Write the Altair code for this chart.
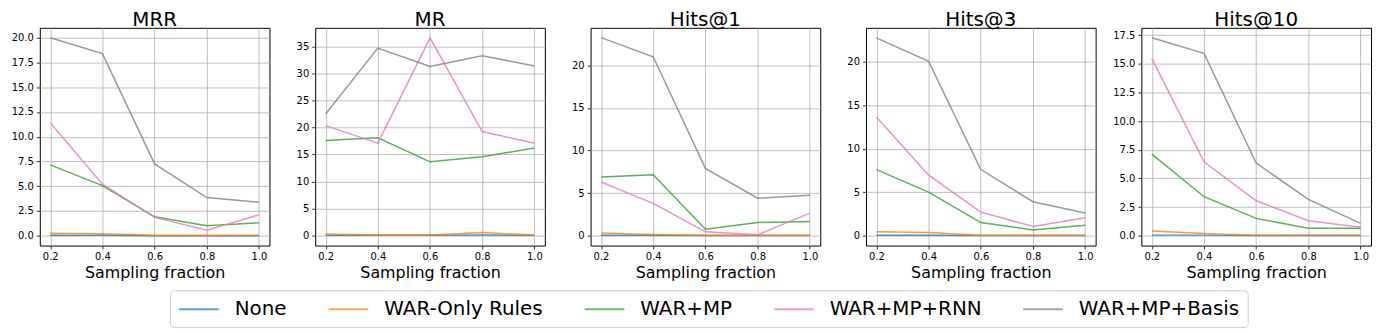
import altair as alt
import pandas as pd

fractions = [0.2, 0.4, 0.6, 0.8, 1.0]
methods = ["None", "WAR-Only Rules", "WAR+MP", "WAR+MP+RNN", "WAR+MP+Basis"]
colors = ["#1f77b4", "#ff7f0e", "#2ca02c", "#e377c2", "#7f7f7f"]

mrr_none = [0.05, 0.05, 0.0, 0.0, 0.0]
mrr_rules = [0.25, 0.2, 0.05, 0.05, 0.05]
mrr_mp = [7.15, 5.05, 1.9, 1.0, 1.3]
mrr_rnn = [11.4, 5.2, 1.85, 0.54, 2.1]
mrr_basis = [20.0, 18.4, 7.25, 3.85, 3.37]

mr_none = [0.05, 0.05, 0.05, 0.1, 0.05]
mr_rules = [0.3, 0.1, 0.1, 0.55, 0.1]
mr_mp = [17.6, 18.1, 13.65, 14.6, 16.2]
mr_rnn = [20.35, 17.1, 36.6, 19.25, 17.1]
mr_basis = [22.5, 34.7, 31.3, 33.3, 31.4]

h1_none = [0.05, 0.05, 0.02, 0.02, 0.02]
h1_rules = [0.3, 0.15, 0.05, 0.05, 0.05]
h1_mp = [6.9, 7.15, 0.75, 1.55, 1.65]
h1_rnn = [6.3, 3.8, 0.45, 0.1, 2.65]
h1_basis = [23.25, 21.0, 7.9, 4.4, 4.75]

h3_none = [0.05, 0.05, 0.02, 0.02, 0.02]
h3_rules = [0.45, 0.35, 0.05, 0.05, 0.05]
h3_mp = [7.6, 5.0, 1.5, 0.65, 1.2]
h3_rnn = [13.65, 6.95, 2.7, 1.05, 2.05]
h3_basis = [22.75, 20.05, 7.6, 3.9, 2.6]

h10_none = [0.05, 0.05, 0.02, 0.02, 0.02]
h10_rules = [0.4, 0.2, 0.05, 0.05, 0.05]
h10_mp = [7.11, 3.4, 1.51, 0.64, 0.64]
h10_rnn = [15.47, 6.44, 3.05, 1.3, 0.73]
h10_basis = [17.27, 15.9, 6.33, 3.16, 1.07]

panels = [
    ("MRR", [mrr_none, mrr_rules, mrr_mp, mrr_rnn, mrr_basis], [-1.0, 21.0],
     [0, 2.5, 5, 7.5, 10, 12.5, 15, 17.5, 20], ".1f"),
    ("MR", [mr_none, mr_rules, mr_mp, mr_rnn, mr_basis], [-1.85, 38.45],
     [0, 5, 10, 15, 20, 25, 30, 35], "d"),
    ("Hits@1", [h1_none, h1_rules, h1_mp, h1_rnn, h1_basis], [-1.16, 24.4],
     [0, 5, 10, 15, 20], "d"),
    ("Hits@3", [h3_none, h3_rules, h3_mp, h3_rnn, h3_basis], [-1.14, 23.9],
     [0, 5, 10, 15, 20], "d"),
    ("Hits@10", [h10_none, h10_rules, h10_mp, h10_rnn, h10_basis], [-0.86, 18.13],
     [0, 2.5, 5, 7.5, 10, 12.5, 15, 17.5], ".1f"),
]

FONT = "DejaVu Sans"


def make_panel(title, series, ydom, yticks, yfmt):
    rows = []
    for mi, (m, vals) in enumerate(zip(methods, series)):
        for f, v in zip(fractions, vals):
            rows.append({"fraction": f, "value": v, "method": m, "order": mi})
    df = pd.DataFrame(rows)
    return (
        alt.Chart(df, title=alt.TitleParams(title, fontSize=20, font=FONT, fontWeight="normal",
                                            offset=-2))
        .mark_line(strokeWidth=1.5, opacity=0.8)
        .encode(
            x=alt.X("fraction:Q", scale=alt.Scale(domain=[0.16, 1.04], nice=False, zero=False),
                    axis=alt.Axis(title="Sampling fraction", values=fractions, format=".1f")),
            y=alt.Y("value:Q", scale=alt.Scale(domain=ydom, nice=False, zero=False),
                    axis=alt.Axis(title=None, values=yticks, format=yfmt)),
            color=alt.Color("method:N", scale=alt.Scale(domain=methods, range=colors),
                            sort=methods,
                            legend=alt.Legend(title=None)),
            detail="order:O",
        )
        .properties(width=231, height=219)
    )


charts = [make_panel(*p) for p in panels]

chart = (
    alt.hconcat(*charts, spacing=46, bounds="flush")
    .properties(padding={"left": 2, "top": 0, "right": 2, "bottom": 2})
    .configure_view(stroke="black", strokeWidth=1)
    .configure_axis(
        grid=True, gridColor="#b0b0b0", gridWidth=0.8, domain=False,
        tickColor="black", tickSize=3.5, tickWidth=0.8,
        labelFont=FONT, labelFontSize=10, labelColor="black", labelPadding=3,
        titleFont=FONT, titleFontSize=16, titleFontWeight="normal", titleColor="black",
        titlePadding=3,
    )
    .configure_legend(
        orient="none", legendX=131, legendY=264, direction="horizontal", columns=5,
        symbolType="M-1,0H3", symbolSize=400, symbolStrokeWidth=2, symbolOpacity=0.7,
        labelFont=FONT, labelFontSize=20, labelColor="black", labelOffset=35, labelLimit=0,
        columnPadding=37.5, padding=8, strokeColor="#cccccc", cornerRadius=4, fillColor="white",
    )
)

chart.save("out.html", embed_options={"renderer": "svg", "actions": False})
